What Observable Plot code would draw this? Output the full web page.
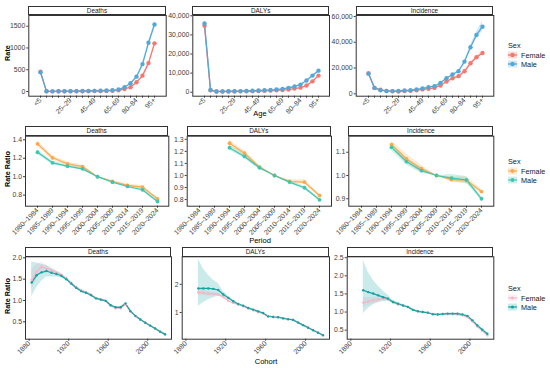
<!DOCTYPE html>
<html><head><meta charset="utf-8">
<script src="https://cdn.jsdelivr.net/npm/d3@7"></script>
<script src="https://cdn.jsdelivr.net/npm/@observablehq/plot@0.6"></script>
<style>
body{margin:0;background:#fff;}
#chart{position:relative;width:550px;height:368px;font-family:"Liberation Sans",Arial,sans-serif;overflow:hidden;background:#fff;}
#chart svg.plotsvg{position:absolute;left:0;top:0;}
.strip{position:absolute;box-sizing:border-box;border:1px solid #333;background:#fff;font-size:6.4px;text-align:center;color:#1a1a1a;}
.t{position:absolute;white-space:nowrap;color:#000;}
</style></head><body><div id="chart"></div><script>
// ---------- categories ----------
const sexes = ["Female", "Male"];
const ages = ["<5","5–9","10–14","15–19","20–24","25–29","30–34","35–39","40–44","45–49","50–54","55–59","60–64","65–69","70–74","75–79","80–84","85–89","90–94","95+"];
const ageTickLabels = ["<5","25–29","45–49","65–69","80–84","95+"];
const periods = ["1980–1984","1985–1989","1990–1994","1995–1999","2000–2004","2005–2009","2010–2014","2015–2019","2020–2024"];
const periodsLater = ["1990–1994","1995–1999","2000–2004","2005–2009","2010–2014","2015–2019","2020–2024"];
const cohortsDeaths = [1882.5,1887.5,1892.5,1897.5,1902.5,1907.5,1912.5,1917.5,1922.5,1927.5,1932.5,1937.5,1942.5,1947.5,1952.5,1957.5,1962.5,1967.5,1972.5,1977.5,1982.5,1987.5,1992.5,1997.5,2002.5,2007.5,2012.5,2017.5];
const cohortsLater = [1892.5,1897.5,1902.5,1907.5,1912.5,1917.5,1922.5,1927.5,1932.5,1937.5,1942.5,1947.5,1952.5,1957.5,1962.5,1967.5,1972.5,1977.5,1982.5,1987.5,1992.5,1997.5,2002.5,2007.5,2012.5,2017.5];
const cohortTicks = [1880, 1920, 1960, 2000];

// ---------- row 1: age rates (value and CI half-width) ----------
const rateDeathsFemale = [452,4,3,4,5,5,6,7,8,10,11,14,18,26,58,98,212,364,652,1106];
const rateDeathsMale   = [440,4,3,5,7,8,9,10,12,15,19,24,28,45,98,190,341,629,1121,1538];
const ciDeathsFemale   = [15,1,1,1,1,1,1,1,1,1,1,1,2,2,3,4,6,10,16,28];
const ciDeathsMale     = [15,1,1,1,1,1,1,1,1,1,1,2,2,2,4,6,9,15,25,38];
const rateDALYsFemale  = [34800,1000,350,350,380,400,450,500,550,650,750,850,1000,1200,1400,1900,2400,3500,5700,8700];
const rateDALYsMale    = [36000,1200,400,450,500,550,600,700,800,900,1000,1200,1400,1700,2300,3000,4000,6100,8700,11300];
const ciDALYsFemale    = [700,40,15,15,15,15,15,20,20,25,30,30,35,40,50,60,80,110,180,260];
const ciDALYsMale      = [700,40,15,15,15,15,20,20,25,30,30,35,40,50,70,90,120,180,270,380];
const rateIncFemale    = [16000,4600,3100,2300,2000,1800,2100,2300,2800,3400,3900,4600,6500,9500,12100,13700,17500,23700,28400,31700];
const rateIncMale      = [15500,4600,2800,2200,2100,2300,2600,2800,3400,4100,5200,5900,8500,12100,15000,17500,25000,36100,45700,52100];
const ciIncFemale      = [500,150,100,80,70,70,70,80,90,110,130,150,200,280,350,400,500,700,900,1100];
const ciIncMale        = [500,150,100,80,70,80,90,100,110,140,170,200,280,400,500,600,900,1500,2500,4000];

// ---------- row 2: period rate ratios ----------
const perDeathsFemale = [1.356,1.205,1.14,1.11,1.0,0.948,0.905,0.886,0.76];
const perDeathsMale   = [1.265,1.15,1.114,1.085,1.0,0.94,0.894,0.858,0.731];
const ciPerDeathsFemale = [0.03,0.025,0.02,0.018,0,0.012,0.015,0.018,0.012];
const ciPerDeathsMale   = [0.025,0.02,0.018,0.015,0,0.01,0.012,0.015,0.012];
const perDALYsFemale = [1.268,1.185,1.069,1.0,0.95,0.945,0.834];
const perDALYsMale   = [1.23,1.158,1.064,1.0,0.945,0.898,0.798];
const ciPerDALYsFemale = [0.025,0.02,0.015,0,0.015,0.02,0.012];
const ciPerDALYsMale   = [0.02,0.02,0.015,0,0.012,0.015,0.01];
const perIncFemale = [1.133,1.071,1.029,1.0,0.983,0.979,0.931];
const perIncMale   = [1.121,1.06,1.021,1.0,0.989,0.981,0.90];
const ciPerIncFemale = [0.015,0.02,0.015,0,0.012,0.015,0.01];
const ciPerIncMale   = [0.015,0.015,0.012,0,0.015,0.015,0.008];

// ---------- row 3: cohort rate ratios (value, lower, upper) ----------
const cohDeathsMale   = [1.42,1.59,1.66,1.69,1.65,1.62,1.58,1.50,1.40,1.30,1.22,1.18,1.125,1.05,1.02,0.99,0.89,0.84,0.84,0.93,0.75,0.64,0.555,0.48,0.41,0.345,0.27,0.21];
const cohDeathsMaleLo = [1.09,1.30,1.45,1.55,1.55,1.55,1.53,1.47,1.37,1.27,1.19,1.15,1.10,1.03,1.0,0.97,0.87,0.82,0.82,0.91,0.73,0.62,0.54,0.465,0.395,0.33,0.255,0.19];
const cohDeathsMaleHi = [1.90,1.88,1.85,1.82,1.75,1.69,1.63,1.53,1.43,1.33,1.25,1.21,1.15,1.07,1.04,1.01,0.91,0.86,0.86,0.95,0.77,0.66,0.57,0.495,0.425,0.36,0.285,0.23];
const cohDeathsFemale   = [1.48,1.67,1.79,1.75,1.71,1.65,1.60,1.52,1.41,1.31,1.24,1.19,1.14,1.06,1.02,0.99,0.88,0.82,0.82,0.91,0.74,0.63,0.55,0.48,0.41,0.34,0.27,0.20];
const cohDeathsFemaleLo = [1.25,1.50,1.68,1.67,1.64,1.60,1.56,1.48,1.37,1.27,1.20,1.15,1.10,1.03,0.99,0.96,0.85,0.79,0.79,0.88,0.71,0.61,0.53,0.46,0.39,0.32,0.25,0.18];
const cohDeathsFemaleHi = [1.72,1.84,1.90,1.83,1.78,1.70,1.64,1.56,1.45,1.35,1.28,1.23,1.18,1.09,1.05,1.02,0.91,0.85,0.85,0.94,0.77,0.65,0.57,0.50,0.43,0.36,0.29,0.22];
const cohDALYsMale   = [1.855,1.855,1.855,1.84,1.80,1.64,1.52,1.40,1.30,1.24,1.16,1.10,1.04,0.98,0.86,0.84,0.83,0.79,0.76,0.735,0.64,0.55,0.46,0.37,0.28,0.19];
const cohDALYsMaleLo = [1.22,1.35,1.45,1.52,1.58,1.55,1.47,1.37,1.27,1.21,1.13,1.08,1.02,0.96,0.84,0.82,0.81,0.77,0.74,0.715,0.62,0.53,0.44,0.35,0.26,0.17];
const cohDALYsMaleHi = [2.90,2.55,2.32,2.15,2.03,1.75,1.58,1.44,1.33,1.27,1.19,1.12,1.06,1.00,0.88,0.86,0.85,0.81,0.78,0.755,0.66,0.57,0.48,0.39,0.30,0.21];
const cohDALYsFemale   = [1.72,1.70,1.67,1.66,1.64,1.55,1.42,1.34,1.28,1.22,1.14,1.08,1.01,0.96,0.87,0.85,0.84,0.80,0.77,0.74,0.65,0.56,0.47,0.38,0.29,0.20];
const cohDALYsFemaleLo = [1.60,1.60,1.59,1.59,1.58,1.51,1.39,1.31,1.25,1.19,1.11,1.06,0.99,0.94,0.85,0.83,0.82,0.78,0.75,0.72,0.63,0.54,0.45,0.36,0.27,0.18];
const cohDALYsFemaleHi = [1.84,1.80,1.75,1.73,1.70,1.59,1.45,1.37,1.31,1.25,1.17,1.10,1.03,0.98,0.89,0.87,0.86,0.82,0.79,0.76,0.67,0.58,0.49,0.40,0.31,0.22];
const cohIncMale   = [1.60,1.55,1.51,1.46,1.41,1.37,1.28,1.23,1.18,1.14,1.06,1.02,1.0,0.98,0.94,0.93,0.945,0.955,0.955,0.955,0.93,0.89,0.77,0.63,0.51,0.40];
const cohIncMaleLo = [0.95,1.10,1.20,1.25,1.29,1.30,1.24,1.20,1.15,1.11,1.04,1.0,0.985,0.965,0.925,0.915,0.93,0.94,0.94,0.94,0.915,0.875,0.755,0.615,0.49,0.38];
const cohIncMaleHi = [2.43,2.10,1.88,1.72,1.58,1.46,1.32,1.26,1.21,1.17,1.08,1.04,1.015,0.995,0.955,0.945,0.96,0.97,0.97,0.97,0.945,0.905,0.785,0.645,0.53,0.42];
const cohIncFemale   = [1.26,1.29,1.32,1.35,1.37,1.35,1.26,1.21,1.18,1.14,1.06,1.02,1.0,0.98,0.95,0.94,0.94,0.94,0.94,0.93,0.91,0.86,0.74,0.60,0.48,0.36];
const cohIncFemaleLo = [1.12,1.18,1.23,1.28,1.31,1.30,1.22,1.18,1.15,1.11,1.03,1.0,0.98,0.96,0.93,0.92,0.92,0.92,0.92,0.91,0.89,0.84,0.72,0.58,0.46,0.34];
const cohIncFemaleHi = [1.40,1.40,1.41,1.42,1.43,1.40,1.30,1.24,1.21,1.17,1.09,1.04,1.02,1.0,0.97,0.96,0.96,0.96,0.96,0.95,0.93,0.88,0.76,0.62,0.50,0.38];

// ---------- build tables ----------
function tableCI(xs, f, fci, m, mci) {
  return [
    ...xs.map((x, i) => ({x, sex: "Female", v: f[i], lo: f[i] - fci[i], hi: f[i] + fci[i]})),
    ...xs.map((x, i) => ({x, sex: "Male", v: m[i], lo: m[i] - mci[i], hi: m[i] + mci[i]}))
  ];
}
function tableLH(xs, f, flo, fhi, m, mlo, mhi) {
  return [
    ...xs.map((x, i) => ({x, sex: "Female", v: f[i], lo: flo[i], hi: fhi[i]})),
    ...xs.map((x, i) => ({x, sex: "Male", v: m[i], lo: mlo[i], hi: mhi[i]}))
  ];
}

// ---------- layout & style ----------
const W = 550, H = 368;
const FONT = '"Liberation Sans", Arial, sans-serif';
const rows = [
  {sT: 5.7, y0: 15, y1: 95.7, cols: [[28.3,165.7],[192.3,329],[355.7,493.3]],
   colors: ["#F8766D","#4FA9DB"], r: 2.2, sw: 1.3, op: 0.25},
  {sT: 126, y0: 135.7, y1: 205.7, cols: [[25,168.3],[186.7,331],[348.3,493.3]],
   colors: ["#FBA94B","#3EC6B0"], r: 1.9, sw: 1.2, op: 0.25},
  {sT: 247.3, y0: 256.3, y1: 338.7, cols: [[25,171],[181.7,329],[346.7,493.3]],
   colors: ["#F9B4C6","#14A3A3"], r: 1.2, sw: 1.2, op: 0.22}
];
const titles = ["Deaths", "DALYs", "Incidence"];

const xAge = {type: "point", domain: ages, padding: 0.6,
  tickFormat: d => ageTickLabels.includes(d) ? d : ""};
const xPeriod = {type: "point", domain: periods, padding: 0.57};
const xCohort = {type: "linear", domain: [1876.3, 2024], ticks: cohortTicks, tickFormat: d3.format("d")};

const panelSpecs = [
  [
    {x: xAge, data: tableCI(ages, rateDeathsFemale, ciDeathsFemale, rateDeathsMale, ciDeathsMale),
     yDomain: [-108, 1746], yTicks: [0,500,1000,1500], yFmt: d3.format("d")},
    {x: xAge, data: tableCI(ages, rateDALYsFemale, ciDALYsFemale, rateDALYsMale, ciDALYsMale),
     yDomain: [-2080, 40150], yTicks: [0,10000,20000,30000,40000], yFmt: d3.format(",")},
    {x: xAge, data: tableCI(ages, rateIncFemale, ciIncFemale, rateIncMale, ciIncMale),
     yDomain: [-1860, 60780], yTicks: [0,20000,40000,60000], yFmt: d3.format(",")}
  ],
  [
    {x: xPeriod, data: tableCI(periods, perDeathsFemale, ciPerDeathsFemale, perDeathsMale, ciPerDeathsMale),
     yDomain: [0.68, 1.439], yTicks: [0.8,1.0,1.2,1.4], yFmt: d3.format(".1f")},
    {x: xPeriod, data: tableCI(periodsLater, perDALYsFemale, ciPerDALYsFemale, perDALYsMale, ciPerDALYsMale),
     yDomain: [0.745, 1.326], yTicks: [0.8,0.9,1.0,1.1,1.2,1.3], yFmt: d3.format(".1f")},
    {x: xPeriod, data: tableCI(periodsLater, perIncFemale, ciPerIncFemale, perIncMale, ciPerIncMale),
     yDomain: [0.868, 1.169], yTicks: [0.9,1.0,1.1], yFmt: d3.format(".1f")}
  ],
  [
    {x: xCohort, data: tableLH(cohortsDeaths, cohDeathsFemale, cohDeathsFemaleLo, cohDeathsFemaleHi, cohDeathsMale, cohDeathsMaleLo, cohDeathsMaleHi),
     yDomain: [0.093, 2.024], yTicks: [0.5,1.0,1.5,2.0], yFmt: d3.format(".1f")},
    {x: xCohort, data: tableLH(cohortsLater, cohDALYsFemale, cohDALYsFemaleLo, cohDALYsFemaleHi, cohDALYsMale, cohDALYsMaleLo, cohDALYsMaleHi),
     yDomain: [0.05, 2.98], yTicks: [1,2], yFmt: d3.format("d")},
    {x: xCohort, data: tableLH(cohortsLater, cohIncFemale, cohIncFemaleLo, cohIncFemaleHi, cohIncMale, cohIncMaleLo, cohIncMaleHi),
     yDomain: [0.25, 2.525], yTicks: [0.5,1.0,1.5,2.0,2.5], yFmt: d3.format(".1f")}
  ]
];

const chart = document.getElementById("chart");

function addText(txt, x, y, opts = {}) {
  const d = document.createElement("div");
  d.className = "t";
  d.textContent = txt;
  d.style.left = x + "px";
  d.style.top = y + "px";
  d.style.fontSize = (opts.size || 7) + "px";
  if (opts.bold) d.style.fontWeight = "bold";
  if (opts.color) d.style.color = opts.color;
  d.style.transform = "translate(" + (opts.ax ?? -50) + "%,-50%)" + (opts.rot ? " rotate(" + opts.rot + "deg)" : "");
  chart.appendChild(d);
}

rows.forEach((row, ri) => {
  row.cols.forEach(([x0, x1], ci) => {
    const spec = panelSpecs[ri][ci];
    const svg = Plot.plot({
      width: W, height: H,
      marginLeft: x0, marginRight: W - x1, marginTop: row.y0, marginBottom: H - row.y1,
      style: {background: "transparent", color: "#3d3d3d", fontSize: "6.9px", fontFamily: FONT, overflow: "visible"},
      x: {...spec.x, label: null, tickSize: 2, tickPadding: 1, tickRotate: -45},
      y: {domain: spec.yDomain, ticks: spec.yTicks, tickFormat: spec.yFmt, label: null, tickSize: 2, tickPadding: 1.5},
      color: {domain: sexes, range: row.colors},
      marks: [
        Plot.areaY(spec.data, {x: "x", y1: "lo", y2: "hi", z: "sex", fill: "sex", fillOpacity: row.op}),
        Plot.line(spec.data, {x: "x", y: "v", z: "sex", stroke: "sex", strokeWidth: row.sw}),
        Plot.dot(spec.data, {x: "x", y: "v", fill: "sex", r: row.r}),
        Plot.frame({stroke: "#333", strokeWidth: 1})
      ]
    });
    svg.classList.add("plotsvg");
    chart.appendChild(svg);
    const s = document.createElement("div");
    s.className = "strip";
    s.style.left = x0 + "px";
    s.style.top = row.sT + "px";
    s.style.width = (x1 - x0) + "px";
    s.style.height = (row.y0 - row.sT + 0.5) + "px";
    s.style.lineHeight = (row.y0 - row.sT - 1.5) + "px";
    s.textContent = titles[ci];
    chart.appendChild(s);
  });

  // legend
  const ly = [45, 161, 288][ri];
  addText("Sex", 508, ly, {ax: 0, size: 7.3, color: "#1a1a1a"});
  sexes.forEach((sx, k) => {
    const yy = ly + 9.5 + k * 9;
    const key = document.createElementNS("http://www.w3.org/2000/svg", "svg");
    key.setAttribute("width", 9); key.setAttribute("height", 8);
    key.style.position = "absolute";
    key.style.left = "508px"; key.style.top = (yy - 4) + "px";
    const c = row.colors[k];
    key.innerHTML = `<rect x="0" y="0.5" width="9" height="7" fill="${c}" fill-opacity="${row.op}"/>` +
      `<line x1="0" x2="9" y1="4" y2="4" stroke="${c}" stroke-width="${row.sw}"/>` +
      `<circle cx="4.5" cy="4" r="${Math.max(row.r, 1.6)}" fill="${c}"/>`;
    chart.appendChild(key);
    addText(sx, 521, yy, {ax: 0, size: 7.3, color: "#1a1a1a"});
  });
});

// axis titles
addText("Rate", 7, 53, {rot: -90, bold: true, size: 7.3});
addText("Age", 260, 113, {size: 7.5});
addText("Rate Ratio", 7, 169, {rot: -90, bold: true, size: 7.3});
addText("Period", 260, 240, {size: 7.5});
addText("Rate Ratio", 7, 296, {rot: -90, bold: true, size: 7.3});
addText("Cohort", 266, 360.5, {size: 7.5});
</script></body></html>
